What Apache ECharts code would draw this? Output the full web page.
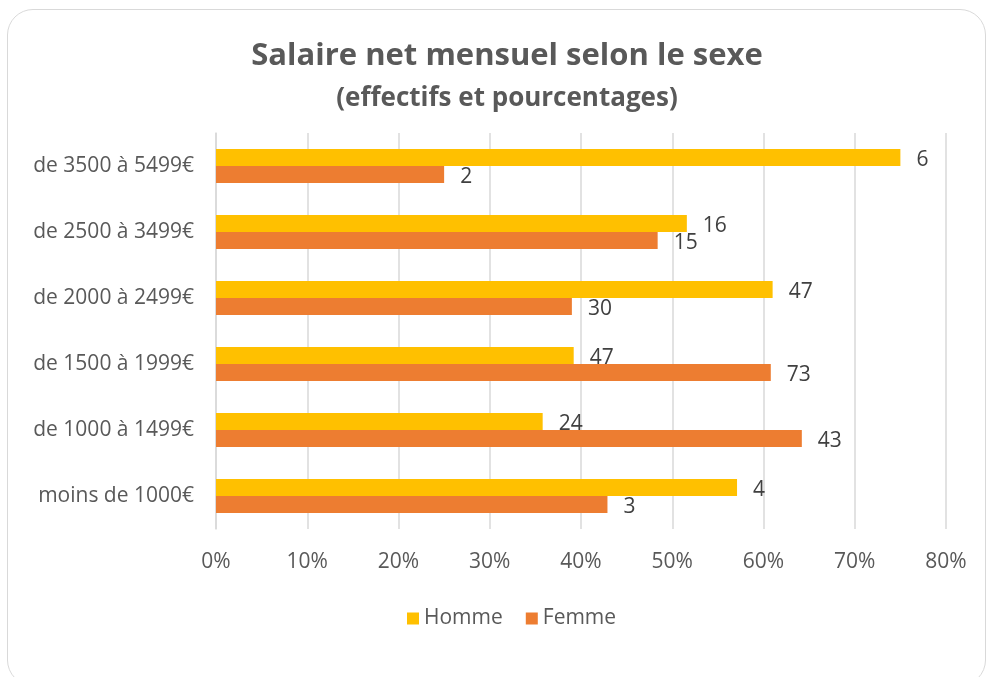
<!DOCTYPE html>
<html>
<head>
<meta charset="utf-8">
<script src="https://cdn.jsdelivr.net/npm/echarts@6/dist/echarts.min.js"></script>
<style>
  html, body { margin: 0; padding: 0; background: #fff; }
  #chart { width: 987px; height: 677px; }
  #frame { position: absolute; left: 7px; top: 9px; width: 977px; height: 675px;
           border: 1.5px solid #d9d9d9; border-radius: 26px; pointer-events: none; }
</style>
</head>
<body>
<div id="chart"></div>
<div id="frame"></div>
<script>
const categories = ['moins de 1000€', 'de 1000 à 1499€', 'de 1500 à 1999€', 'de 2000 à 2499€', 'de 2500 à 3499€', 'de 3500 à 5499€'];
const hommePct = [57.1, 35.8, 39.2, 61.0, 51.6, 75.0];
const femmePct = [42.9, 64.2, 60.8, 39.0, 48.4, 25.0];
const hommeCount = [4, 24, 47, 47, 16, 6];
const femmeCount = [3, 43, 73, 30, 15, 2];
const xTicks = [0, 10, 20, 30, 40, 50, 60, 70, 80];

const FONT = 'Open Sans';
const FS = 21;
const chart = echarts.init(document.getElementById('chart'));
chart.setOption({
  animation: false,
  textStyle: { fontFamily: FONT },
  title: [
    { text: 'Salaire net mensuel selon le sexe', left: 502, top: 36, textAlign: 'center',
      textStyle: { fontFamily: FONT, fontSize: 31, fontWeight: 'bold', color: '#595959' } },
    { text: '(effectifs et pourcentages)', left: 502, top: 81, textAlign: 'center',
      textStyle: { fontFamily: FONT, fontSize: 26, fontWeight: 'bold', color: '#595959' } }
  ],
  legend: {
    data: ['Homme', 'Femme'], left: 402, top: 603,
    itemWidth: 12, itemHeight: 12, itemGap: 23, icon: 'rect',
    textStyle: { fontFamily: FONT, fontSize: FS, color: '#595959' }
  },
  grid: { left: 216, right: 41, top: 133, bottom: 148, containLabel: false },
  xAxis: {
    type: 'value', min: xTicks[0], max: xTicks[xTicks.length - 1], interval: 10,
    axisLine: { show: false }, axisTick: { show: false },
    splitLine: { lineStyle: { color: '#d9d9d9', width: 1.5 } },
    axisLabel: { formatter: v => v + '%', fontFamily: FONT, fontSize: FS, color: '#595959', margin: 23 }
  },
  yAxis: {
    type: 'category', data: categories,
    axisLine: { lineStyle: { color: '#d9d9d9', width: 1.5 } }, axisTick: { show: false },
    axisLabel: { fontFamily: FONT, fontSize: FS, color: '#595959', margin: 22 }
  },
  series: [
    { name: 'Homme', type: 'bar', data: hommePct, barWidth: 17, barGap: '0%',
      itemStyle: { color: '#FFC000' },
      label: { show: true, position: 'right', distance: 16, offset: [0, 3], fontFamily: FONT, fontSize: FS, color: '#404040',
               formatter: p => hommeCount[p.dataIndex] } },
    { name: 'Femme', type: 'bar', data: femmePct, barWidth: 17, barGap: '0%',
      itemStyle: { color: '#ED7D31' },
      label: { show: true, position: 'right', distance: 16, offset: [0, 3], fontFamily: FONT, fontSize: FS, color: '#404040',
               formatter: p => femmeCount[p.dataIndex] } }
  ]
});
</script>
</body>
</html>
